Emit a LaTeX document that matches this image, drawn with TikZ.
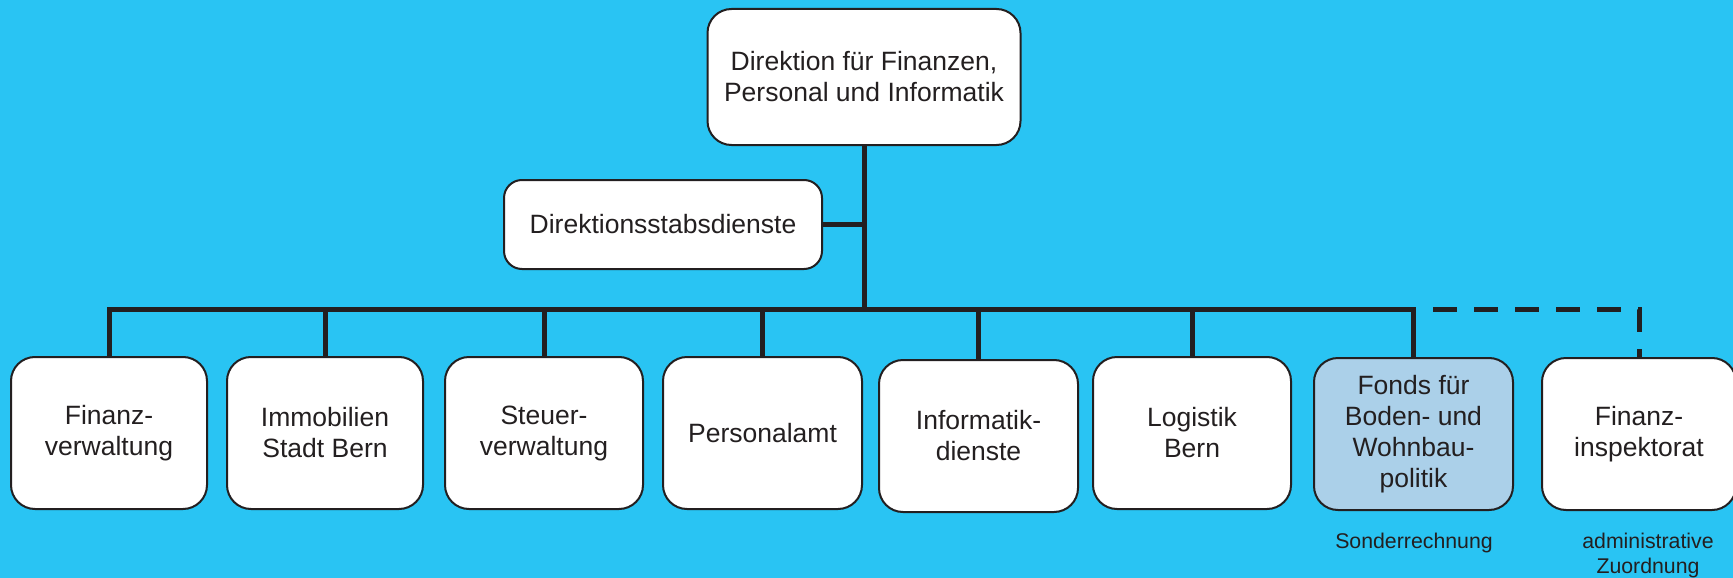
\documentclass[tikz,border=0pt]{standalone}
\usepackage{fontspec}
\setmainfont{Liberation Sans}
\definecolor{bgc}{RGB}{41,196,243}
\definecolor{ink}{RGB}{35,31,32}
\definecolor{fondsc}{RGB}{171,208,233}
\begin{document}
\begin{tikzpicture}[x=1pt,y=-1pt,
  box/.style={draw=ink,line width=2pt,fill=white,rounded corners=24pt,
    minimum width=#1,minimum height=152pt,inner sep=0pt,align=center,
    text=ink,font=\fontsize{26.5}{31}\selectfont},
  box/.default=198pt,
  link/.style={draw=ink,line width=5pt,line join=miter},
  dlink/.style={draw=ink,line width=5pt,dash pattern=on 24pt off 17pt,dash phase=24pt},
  note/.style={text=ink,align=center,inner sep=0pt,font=\fontsize{21.3}{25}\selectfont}]
\useasboundingbox (0,0) rectangle (1733,578);
\fill[bgc] (0,0) rectangle (1733,578);
\clip (0,0) rectangle (1733,578);

\node[box=313pt,minimum height=136pt] (top) at (864,77) {Direktion für Finanzen,\\Personal und Informatik};
\node[box=318pt,minimum height=89pt,rounded corners=18pt] (staff) at (663,224.5) {Direktionsstabsdienste};

\node[box=196pt] (b1) at (109,433) {Finanz-\\verwaltung};
\node[box=196pt] (b2) at (325,433) {Immobilien\\Stadt Bern};
\node[box=198pt] (b3) at (544,433) {Steuer-\\verwaltung};
\node[box=199pt] (b4) at (762.5,433) {Personalamt};
\node[box=199pt] (b5) at (978.5,436) {Informatik-\\dienste};
\node[box=198pt] (b6) at (1192,433) {Logistik\\Bern};
\node[box=199pt,fill=fondsc] (b7) at (1413.5,434) {Fonds für\\Boden- und\\Wohnbau-\\politik};
\node[box=194pt] (b8) at (1639,434) {Finanz-\\inspektorat};

\node[note] (n7) at (1414,542.5) {Sonderrechnung};
\node[note] (n8) at (1648,555) {administrative\\Zuordnung};

\coordinate (bus) at (863,309);
\draw[link] (top.south) -- (top.south |- bus);
\draw[link] (staff.east) -- (staff.east -| top.south);
\draw[link] (b1.north) -- (b1.north |- bus) -- (b7.north |- bus) -- (b7.north);
\foreach \b in {b2,b3,b4,b5,b6}
  \draw[link] (\b.north) -- (\b.north |- bus);
\draw[dlink] ([xshift=2.5pt]b7.north |- bus) -- (b8.north |- bus) -- (b8.north);
\end{tikzpicture}
\end{document}
